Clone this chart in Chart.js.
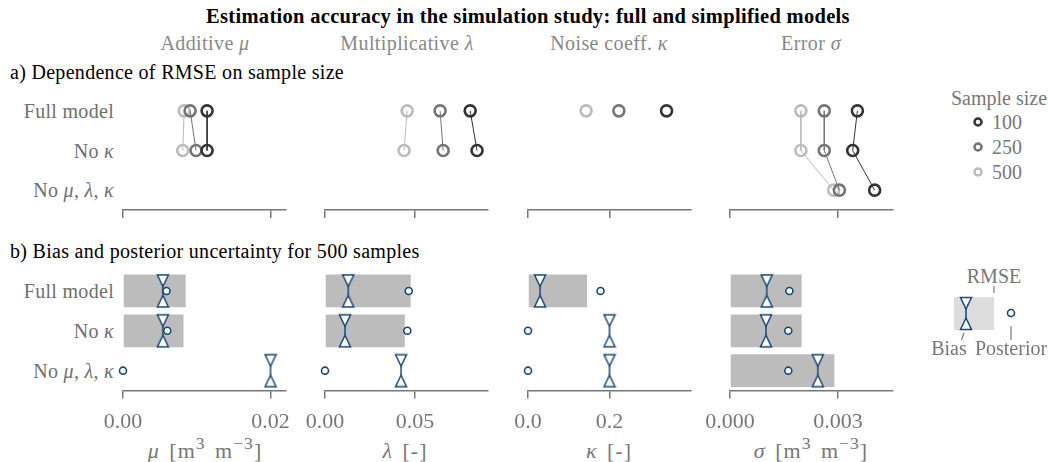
<!DOCTYPE html>
<html>
<head>
<meta charset="utf-8">
<script src="https://cdn.jsdelivr.net/npm/chart.js@4.4.1/dist/chart.umd.min.js"></script>
<style>
  body { margin: 0; width: 1048px; height: 462px; background: #fff; position: relative; overflow: hidden;
         font-family: "Liberation Serif", "DejaVu Serif", serif; }
  canvas { position: absolute; }
  .t { position: absolute; white-space: nowrap; line-height: 24px; height: 24px; font-size: 20px; letter-spacing: 0.3px; }
  .c { transform: translate(-50%, -50%); }
  .r { transform: translate(-100%, -50%); }
  .l { transform: translate(0, -50%); }
  .grey { color: #777; }
  .head { color: #888; letter-spacing: 0.4px; }
  .ax { font-size: 22px; letter-spacing: 1px; word-spacing: 3px; }
  .leg { letter-spacing: 0; }
  sup { font-size: 80%; vertical-align: 0; position: relative; top: -0.5em; }
  svg { position: absolute; left: 0; top: 0; }
</style>
</head>
<body>

<div class="t c" style="left:528px;top:16px;font-weight:bold;font-size:20.5px;">Estimation accuracy in the simulation study: full and simplified models</div>
<div class="t c head" style="left:205px;top:43px;">Additive <i>μ</i></div>
<div class="t c head" style="left:407px;top:43px;">Multiplicative <i>λ</i></div>
<div class="t c head" style="left:609px;top:43px;">Noise coeff. <i>κ</i></div>
<div class="t c head" style="left:811px;top:43px;">Error <i>σ</i></div>
<div class="t l" style="left:10px;top:72px;">a) Dependence of RMSE on sample size</div>
<div class="t l" style="left:10px;top:251px;">b) Bias and posterior uncertainty for 500 samples</div>

<div class="t c grey ax" style="left:205px;top:451px;"><i>μ</i> [m<sup>3</sup> m<sup>−3</sup>]</div>
<div class="t c grey ax" style="left:405px;top:451px;"><i>λ</i> [-]</div>
<div class="t c grey ax" style="left:609px;top:451px;"><i>κ</i> [-]</div>
<div class="t c grey ax" style="left:811px;top:451px;"><i>σ</i> [m<sup>3</sup> m<sup>−3</sup>]</div>

<script>
// row labels
const models = ["Full model", "No κ", "No μ, λ, κ"];
const modelLabels = ["Full model", "No <i>κ</i>", "No <i>μ</i>, <i>λ</i>, <i>κ</i>"];
const sampleSizes = [100, 250, 500];

// a) RMSE, one inner array per sample size (100, 250, 500), values per model
const rmseMu = [[0.0114, 0.0114, null], [0.0091, 0.0099, null], [0.0083, 0.0081, null]];
const rmseLambda = [[0.0806, 0.0844, null], [0.0639, 0.0656, null], [0.0456, 0.0439, null]];
const rmseKappa = [[0.340, null, null], [0.223, null, null], [0.1425, null, null]];
const rmseSigma = [[0.00354, 0.00341, 0.00402], [0.00262, 0.00262, 0.00304], [0.00197, 0.00197, 0.00288]];

// b) 500 samples: RMSE bar, bias and posterior uncertainty per model
const rmse500Mu = [0.0085, 0.0082, null];
const biasMu = [0.0054, 0.0054, 0.0200];
const postMu = [0.0059, 0.0060, 0.0];

const rmse500Lambda = [0.0476, 0.0443, null];
const biasLambda = [0.0129, 0.0111, 0.0422];
const postLambda = [0.0465, 0.0457, 0.0];

const rmse500Kappa = [0.145, null, null];
const biasKappa = [0.0296, 0.2, 0.2];
const postKappa = [0.178, 0.0, 0.0];

const rmse500Sigma = [0.00199, 0.00199, 0.00290];
const biasSigma = [0.00102, 0.00100, 0.00244];
const postSigma = [0.00165, 0.00162, 0.00162];

// tick labels
const ticksMu = [0, 0.02];
const ticksLambda = [0, 0.05];
const ticksKappa = [0, 0.2];
const ticksSigma = [0, 0.003];

const FONT = '"Liberation Serif", serif';
const AXIS = "#777";
const BLUE = "#16487a";
const sizeColors = ["#333333", "#747474", "#bbbbbb"];

const panels = [
  { left: 123, max: 0.0221, dec: 2, ticks: ticksMu, rmse: rmseMu, bar: rmse500Mu, bias: biasMu, post: postMu },
  { left: 325, max: 0.0905, dec: 2, ticks: ticksLambda, rmse: rmseLambda, bar: rmse500Lambda, bias: biasLambda, post: postLambda },
  { left: 528, max: 0.40, dec: 1, ticks: ticksKappa, rmse: rmseKappa, bar: rmse500Kappa, bias: biasKappa, post: postKappa },
  { left: 730, max: 0.00453, dec: 3, ticks: ticksSigma, rmse: rmseSigma, bar: rmse500Sigma, bias: biasSigma, post: postSigma }
];
const PAD = 45, AREA_W = 163;

// row labels as text
[111, 150.5, 190].forEach((y, i) => addText(modelLabels[i], 114, y));
[291, 331, 371].forEach((y, i) => addText(modelLabels[i], 114, y));

function addText(html, x, y) {
  const d = document.createElement("div");
  d.className = "t r";
  d.style.color = "#6f6f6f";
  d.style.left = x + "px";
  d.style.top = y + "px";
  d.innerHTML = html;
  document.body.appendChild(d);
}

function makeCanvas(left, top, w, h) {
  const c = document.createElement("canvas");
  c.width = w; c.height = h;
  c.style.left = left + "px"; c.style.top = top + "px";
  c.style.width = w + "px"; c.style.height = h + "px";
  document.body.appendChild(c);
  return c;
}

// grow the canvas until the plot area ends at the wanted row (axis height is measured by Chart.js)
function fitBottom(chart, bottom) {
  const extra = Math.round(bottom - chart.chartArea.bottom);
  if (extra !== 0) chart.resize(chart.width, chart.height + extra);
}

// hourglass marker for the bias
function hourglass() {
  const c = document.createElement("canvas");
  c.width = 14; c.height = 36;
  const g = c.getContext("2d");
  g.strokeStyle = BLUE; g.fillStyle = "#fff"; g.lineWidth = 1.5;
  g.beginPath(); g.moveTo(1.5, 2); g.lineTo(12.5, 2); g.lineTo(7, 13.5); g.closePath(); g.fill(); g.stroke();
  g.beginPath(); g.moveTo(7, 13.5); g.lineTo(7, 22.5); g.stroke();
  g.beginPath(); g.moveTo(7, 22.5); g.lineTo(1.5, 34); g.lineTo(12.5, 34); g.closePath(); g.fill(); g.stroke();
  return c;
}
const hourglassImg = hourglass();

function xScale(p, showLabels) {
  return {
    type: "linear", min: 0, max: p.max,
    afterBuildTicks: s => { s.ticks = p.ticks.map(v => ({ value: v })); },
    grid: { drawOnChartArea: false, drawTicks: true, tickLength: 8, color: AXIS, lineWidth: 1.5 },
    border: { display: true, color: AXIS, width: 1.5 },
    ticks: { display: showLabels, color: "#777", padding: 10, font: { family: FONT, size: 22 },
             maxRotation: 0, callback: v => Number(v).toFixed(p.dec) }
  };
}

const baseOptions = {
  responsive: false, maintainAspectRatio: false, animation: false, devicePixelRatio: 1, indexAxis: "y",
  plugins: { legend: { display: false }, tooltip: { enabled: false } },
  events: []
};

const points = arr => models.map((m, i) => ({ x: arr[i], y: m }));

panels.forEach(p => {
  // a) RMSE vs sample size
  const top = new Chart(makeCanvas(p.left - PAD, 81, AREA_W + 2 * PAD, 140), {
    type: "line",
    data: {
      datasets: sampleSizes.map((n, k) => ({
        label: String(n),
        data: points(p.rmse[k]),
        borderColor: sizeColors[k], borderWidth: 1,
        pointRadius: 5.5, pointBorderWidth: 2.6,
        pointBorderColor: sizeColors[k], pointBackgroundColor: "rgba(0,0,0,0)",
        spanGaps: false, clip: false
      }))
    },
    options: Object.assign({}, baseOptions, {
      layout: { padding: { top: 10, bottom: 3, left: PAD, right: PAD } },
      scales: {
        x: xScale(p, false),
        y: { type: "category", labels: models, offset: true, display: false }
      }
    })
  });
  fitBottom(top, 129);

  // b) bias and posterior for 500 samples
  const bottom = new Chart(makeCanvas(p.left - PAD, 261, AREA_W + 2 * PAD, 190), {
    type: "bar",
    data: {
      labels: models,
      datasets: [
        { type: "line", label: "Posterior", data: points(p.post), showLine: false,
          pointStyle: "circle", pointRadius: 3.5, pointBorderWidth: 1.6,
          pointBorderColor: BLUE, pointBackgroundColor: "#fff", order: 0, clip: false },
        { type: "line", label: "Bias", data: points(p.bias), showLine: false,
          pointStyle: hourglassImg, pointRadius: 6, order: 1, clip: false },
        { type: "bar", label: "RMSE", data: p.bar, backgroundColor: "#bcbcbc",
          barPercentage: 0.82, categoryPercentage: 1, order: 2 }
      ]
    },
    options: Object.assign({}, baseOptions, {
      layout: { padding: { top: 10, bottom: 4, left: PAD, right: PAD } },
      scales: {
        x: xScale(p, true),
        y: { type: "category", labels: models, offset: true, display: false }
      }
    })
  });
  fitBottom(bottom, 130);
});
</script>

<!-- legends -->
<div class="t c grey leg" style="left:999px;top:98px;">Sample size</div>
<div class="t l grey leg" style="left:992px;top:122px;">100</div>
<div class="t l grey leg" style="left:992px;top:147px;">250</div>
<div class="t l grey leg" style="left:992px;top:172px;">500</div>
<div class="t c grey leg" style="left:994px;top:276px;">RMSE</div>
<div class="t c grey leg" style="left:949px;top:348px;">Bias</div>
<div class="t c grey leg" style="left:1011px;top:348px;">Posterior</div>
<svg width="1048" height="462">
  <circle cx="978" cy="122" r="3.5" fill="none" stroke="#333" stroke-width="2.5"/>
  <circle cx="978" cy="147" r="3.5" fill="none" stroke="#747474" stroke-width="2.5"/>
  <circle cx="978" cy="172" r="3.5" fill="none" stroke="#bbb" stroke-width="2.5"/>
  <rect x="954" y="297" width="40" height="33" fill="#dcdcdc"/>
  <line x1="994" y1="286" x2="994" y2="293" stroke="#777" stroke-width="1.2"/>
  <g fill="#fff" stroke="#16487a" stroke-width="1.5">
    <path d="M960.5 297.5 L971.5 297.5 L966 309 Z"/>
    <line x1="966" y1="309" x2="966" y2="318"/>
    <path d="M966 318 L960.5 329.5 L971.5 329.5 Z"/>
    <circle cx="1011" cy="313" r="3.5" stroke-width="1.6"/>
  </g>
  <line x1="964" y1="333" x2="961.5" y2="340" stroke="#777" stroke-width="1.2"/>
  <line x1="1011" y1="326" x2="1011" y2="340" stroke="#777" stroke-width="1.2"/>
</svg>
</body>
</html>
